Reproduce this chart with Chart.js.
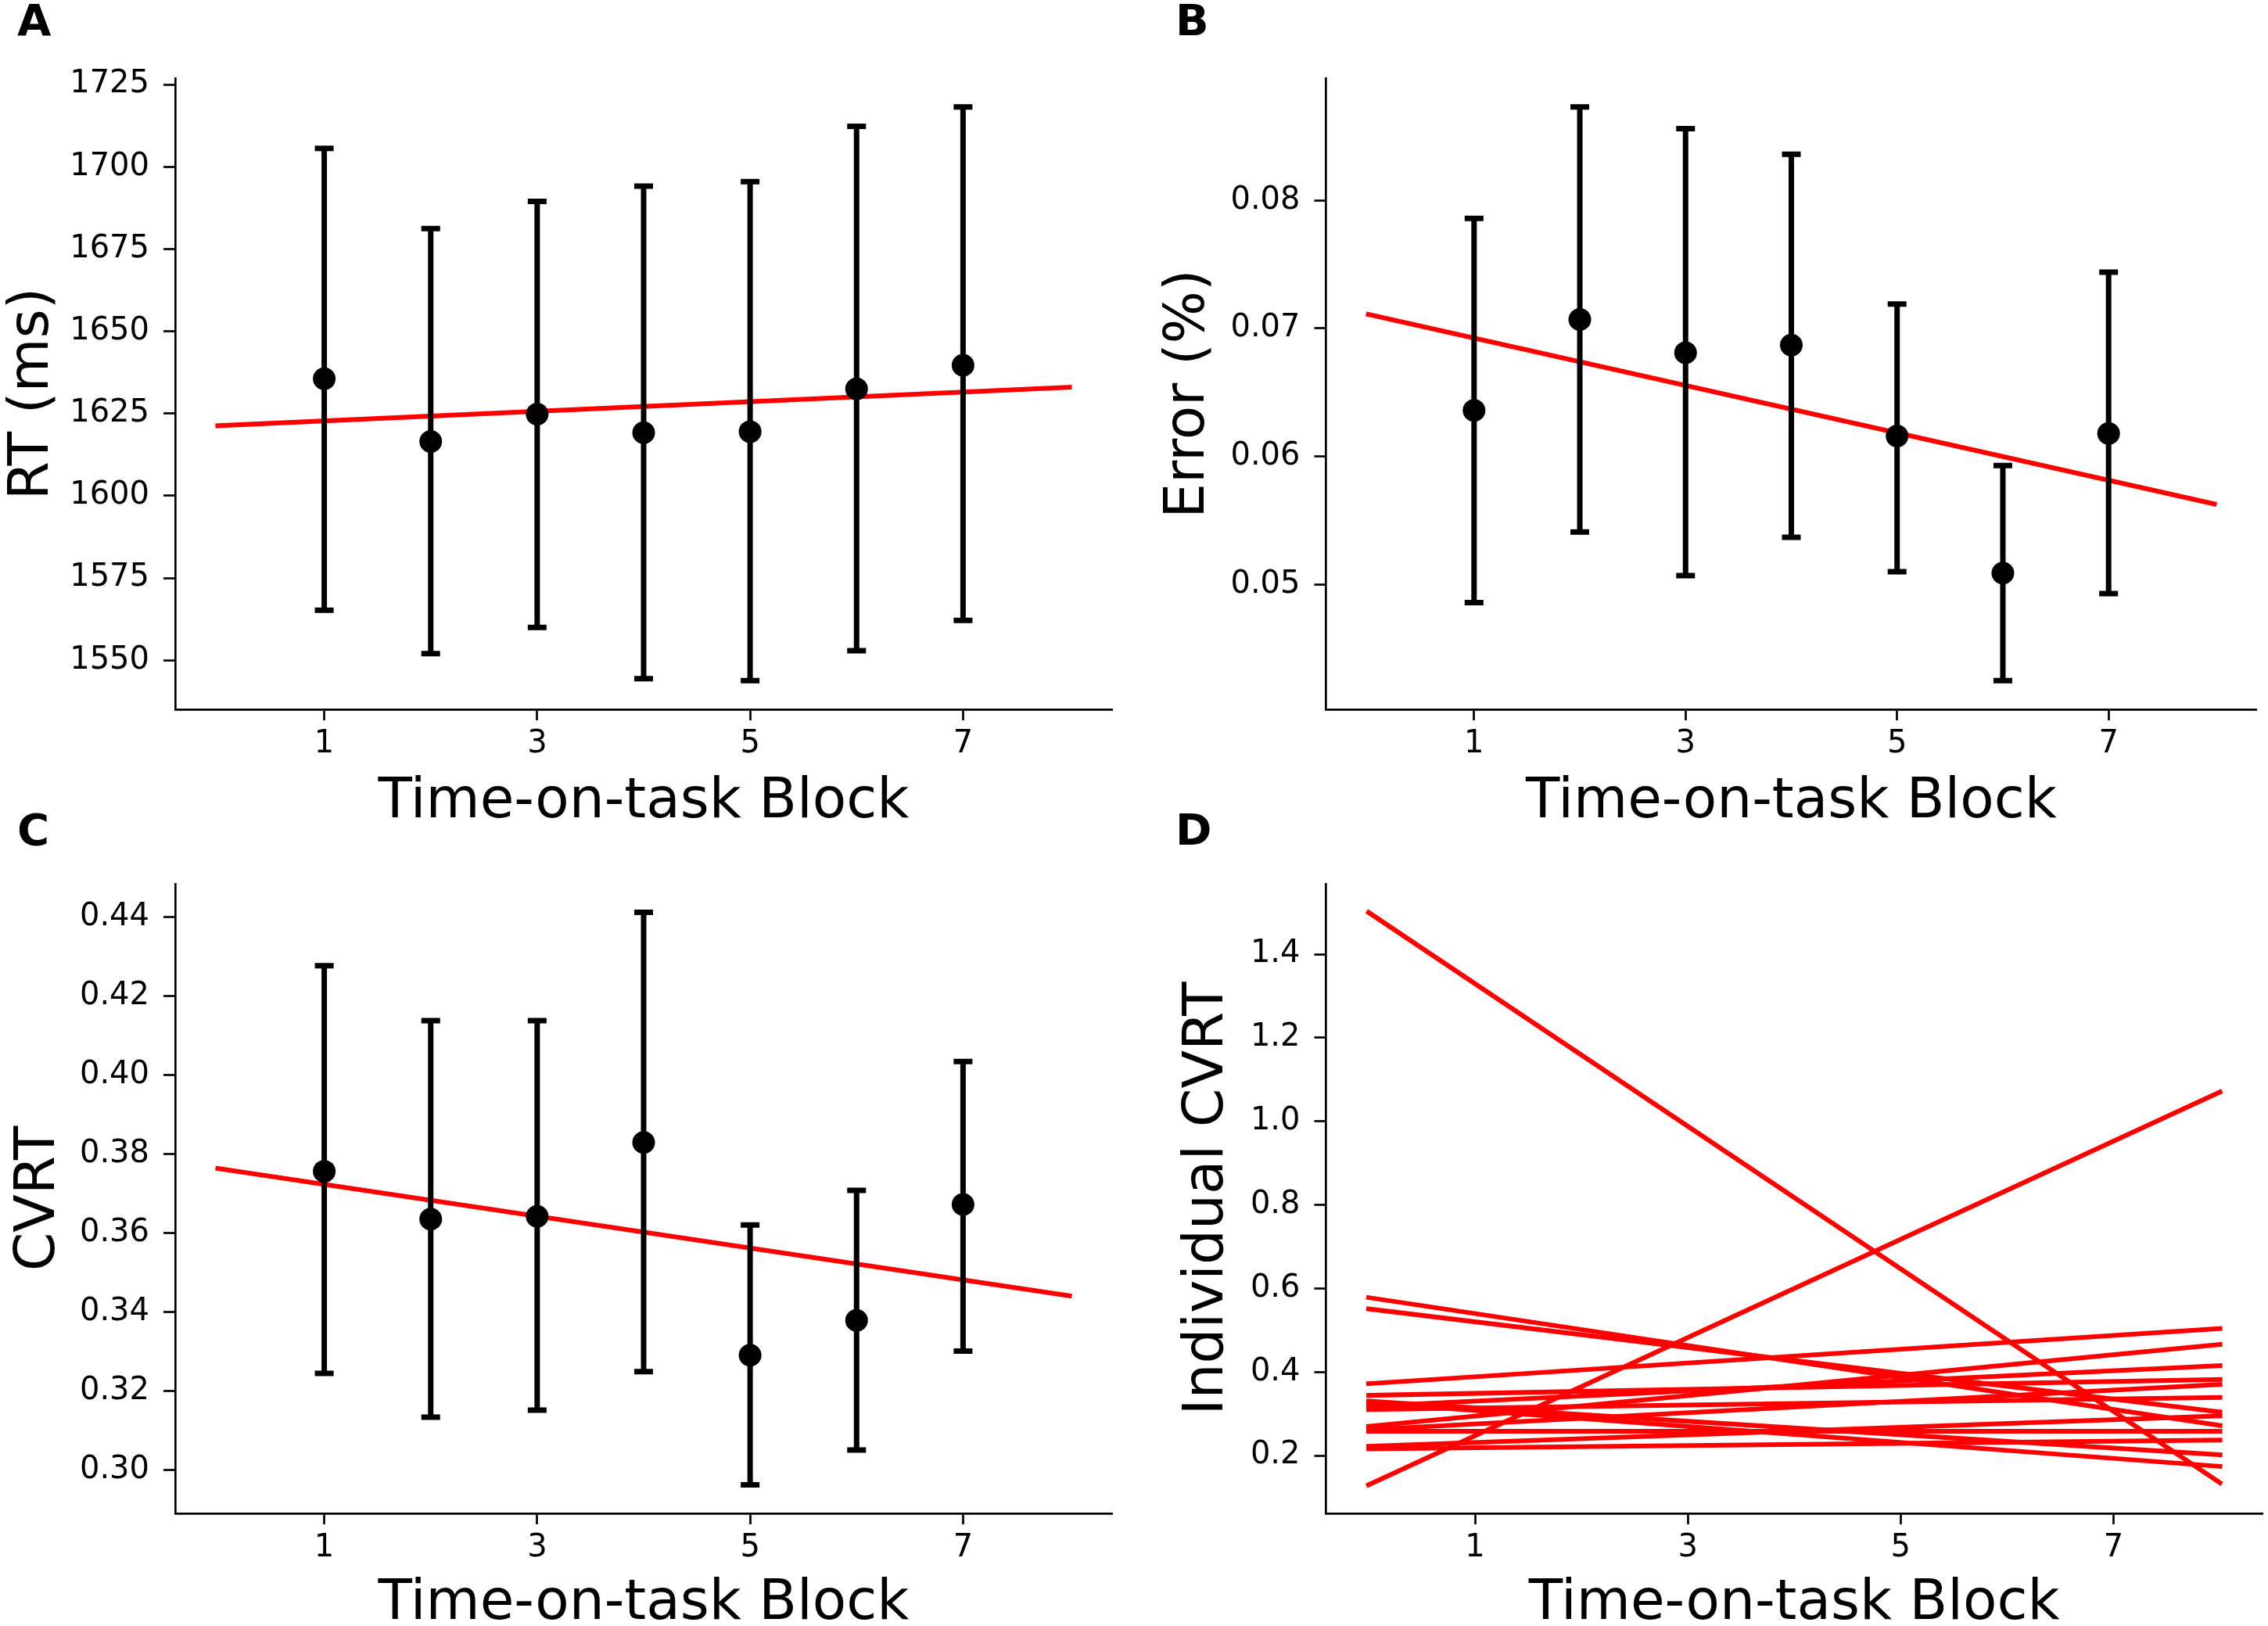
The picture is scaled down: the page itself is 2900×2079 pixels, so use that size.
<!DOCTYPE html>
<html>
<head>
<meta charset="utf-8">
<script src="https://cdn.jsdelivr.net/npm/chart.js@4.4.1/dist/chart.umd.min.js"></script>
<style>
  body { margin: 0; width: 2900px; height: 2079px; overflow: hidden; background: #fff; position: relative; }
  canvas { position: absolute; }
  .tag { position: absolute; font: bold 56px/1 "DejaVu Sans"; color: #000; }
</style>
</head>
<body>
<div class="tag" style="left:22px;top:-2px">A</div>
<div class="tag" style="left:1503px;top:-2px">B</div>
<div class="tag" style="left:22px;top:1033px">C</div>
<div class="tag" style="left:1503px;top:1033px">D</div>

<canvas id="chartA" width="1450" height="1100" style="left:0;top:0"></canvas>
<canvas id="chartB" width="1450" height="1100" style="left:1450px;top:0"></canvas>
<canvas id="chartC" width="1450" height="1100" style="left:0;top:1000px"></canvas>
<canvas id="chartD" width="1450" height="1100" style="left:1450px;top:1000px"></canvas>

<script>
// data
const blocks = [1, 2, 3, 4, 5, 6, 7];
const xTicks = [1, 3, 5, 7];
const fitX = [0, 8];

// A - RT
const rtMean = [1635.6, 1616.5, 1624.8, 1619.2, 1619.5, 1632.5, 1639.7];
const rtLow = [1565.2, 1552.0, 1560.0, 1544.4, 1543.8, 1552.9, 1562.1];
const rtHigh = [1705.6, 1681.2, 1689.5, 1694.1, 1695.5, 1712.3, 1718.2];
const rtFit = [1621.3, 1633.0];
const rtTicks = [1550, 1575, 1600, 1625, 1650, 1675, 1700, 1725];

// B - error
const errMean = [0.0636, 0.0707, 0.0681, 0.0687, 0.0616, 0.0509, 0.0618];
const errLow = [0.0486, 0.0541, 0.0507, 0.0537, 0.0510, 0.0425, 0.0493];
const errHigh = [0.0786, 0.0873, 0.0856, 0.0836, 0.0719, 0.0593, 0.0744];
const errFit = [0.0711, 0.0563];
const errTicks = [0.05, 0.06, 0.07, 0.08];

// C - CVRT
const cvMean = [0.3756, 0.3635, 0.3642, 0.3829, 0.3291, 0.3379, 0.3672];
const cvLow = [0.3245, 0.3134, 0.3152, 0.3249, 0.2963, 0.3051, 0.3301];
const cvHigh = [0.4276, 0.4137, 0.4137, 0.4411, 0.3620, 0.3708, 0.4034];
const cvFit = [0.3763, 0.3441];
const cvTicks = [0.30, 0.32, 0.34, 0.36, 0.38, 0.40, 0.42, 0.44];

// D - individual fits (value at block 0 and block 8)
const indivStart = [1.500, 0.130, 0.578, 0.551, 0.372, 0.344, 0.327, 0.330, 0.318, 0.310, 0.270, 0.262, 0.258, 0.222, 0.216];
const indivEnd   = [0.135, 1.070, 0.272, 0.304, 0.504, 0.382, 0.174, 0.202, 0.415, 0.339, 0.466, 0.370, 0.258, 0.295, 0.237];
const indivTicks = [0.2, 0.4, 0.6, 0.8, 1.0, 1.2, 1.4];

Chart.defaults.font.family = 'DejaVu Sans';
Chart.defaults.color = '#000';

// matplotlib style 5% margins
function pad(lo, hi) {
  const m = (hi - lo) * 0.05;
  return [lo - m, hi + m];
}

// draws the error bars right before the dots
const errorBars = {
  id: 'errorBars',
  beforeDatasetDraw(chart, args) {
    const ds = chart.data.datasets[args.index];
    if (!ds.errLow) return;
    const xs = chart.scales.x, ys = chart.scales.y, ctx = chart.ctx;
    ctx.save();
    ctx.strokeStyle = '#000';
    ctx.lineWidth = 7;
    ds.data.forEach((p, i) => {
      const px = xs.getPixelForValue(p.x);
      const top = ys.getPixelForValue(ds.errHigh[i]);
      const bot = ys.getPixelForValue(ds.errLow[i]);
      ctx.beginPath();
      ctx.moveTo(px, top); ctx.lineTo(px, bot);
      ctx.moveTo(px - 12, top); ctx.lineTo(px + 12, top);
      ctx.moveTo(px - 12, bot); ctx.lineTo(px + 12, bot);
      ctx.stroke();
    });
    ctx.restore();
  }
};

function makeOptions(p) {
  const lim = p.lim;
  return {
    responsive: false,
    devicePixelRatio: 1,
    animation: false,
    layout: { padding: { left: p.padLeft, top: p.top, right: p.padRight, bottom: 0 } },
    plugins: { legend: { display: false }, tooltip: { enabled: false } },
    scales: {
      x: {
        type: 'linear', min: -0.4, max: 8.4,
        afterBuildTicks: s => { s.ticks = xTicks.map(v => ({ value: v })); },
        afterFit: s => { s.height = p.xHeight; },
        border: { display: true, color: '#000', width: 2.7 },
        grid: { drawOnChartArea: false, drawTicks: true, tickLength: 14, tickWidth: 2.7, tickColor: '#000' },
        ticks: { font: { size: 40 }, padding: 7, callback: v => String(v) },
        title: { display: true, text: 'Time-on-task Block', font: { size: 71 }, padding: { top: 0, bottom: p.titlePad } }
      },
      y: {
        type: 'linear', min: lim[0], max: lim[1],
        afterBuildTicks: s => { s.ticks = p.yTicks.map(v => ({ value: v })); },
        afterFit: s => { s.width = p.yWidth; },
        border: { display: true, color: '#000', width: 2.7 },
        grid: { drawOnChartArea: false, drawTicks: true, tickLength: 15, tickWidth: 2.7, tickColor: '#000' },
        ticks: { font: { size: 40 }, padding: 18, callback: v => v.toFixed(p.digits) },
        title: { display: true, text: p.yTitle, font: { size: 71 }, padding: { top: 0, bottom: 0 } }
      }
    }
  };
}

function meanPanel(id, mean, low, high, fit, p) {
  new Chart(document.getElementById(id), {
    type: 'scatter',
    data: {
      datasets: [{
        data: blocks.map((b, i) => ({ x: b, y: mean[i] })),
        errLow: low,
        errHigh: high,
        pointRadius: 14.5,
        pointBackgroundColor: '#000',
        pointBorderWidth: 0,
        order: 1
      }, {
        data: fitX.map((x, i) => ({ x: x, y: fit[i] })),
        showLine: true,
        borderColor: '#ff0000',
        borderWidth: 6,
        borderCapStyle: 'square',
        pointRadius: 0,
        order: 2
      }]
    },
    options: makeOptions(p),
    plugins: [errorBars]
  });
}

//charts
meanPanel('chartA', rtMean, rtLow, rtHigh, rtFit, {
  lim: pad(Math.min(...rtLow), Math.max(...rtHigh)), yTicks: rtTicks, digits: 0, yTitle: 'RT (ms)',
  padLeft: 0, yWidth: 224, padRight: 28, top: 100, xHeight: 193, titlePad: 31
});

meanPanel('chartB', errMean, errLow, errHigh, errFit, {
  lim: pad(Math.min(...errLow), Math.max(...errHigh)), yTicks: errTicks, digits: 2, yTitle: 'Error (%)',
  padLeft: 28, yWidth: 217.5, padRight: 7, top: 100, xHeight: 193, titlePad: 31
});

meanPanel('chartC', cvMean, cvLow, cvHigh, cvFit, {
  lim: pad(Math.min(...cvLow), Math.max(...cvHigh)), yTicks: cvTicks, digits: 2, yTitle: 'CVRT',
  padLeft: 8, yWidth: 216, padRight: 28, top: 130, xHeight: 165, titlePad: 6
});

new Chart(document.getElementById('chartD'), {
  type: 'scatter',
  data: {
    datasets: indivStart.map((s, i) => ({
      data: [{ x: fitX[0], y: s }, { x: fitX[1], y: indivEnd[i] }],
      showLine: true,
      borderColor: '#ff0000',
      borderWidth: 6,
      borderCapStyle: 'square',
      pointRadius: 0
    }))
  },
  options: makeOptions({
    lim: pad(Math.min(...indivStart, ...indivEnd), Math.max(...indivStart, ...indivEnd)),
    yTicks: indivTicks, digits: 1, yTitle: 'Individual CVRT',
    padLeft: 52, yWidth: 193.5, padRight: 7, top: 130, xHeight: 165, titlePad: 6
  })
});
</script>
</body>
</html>
